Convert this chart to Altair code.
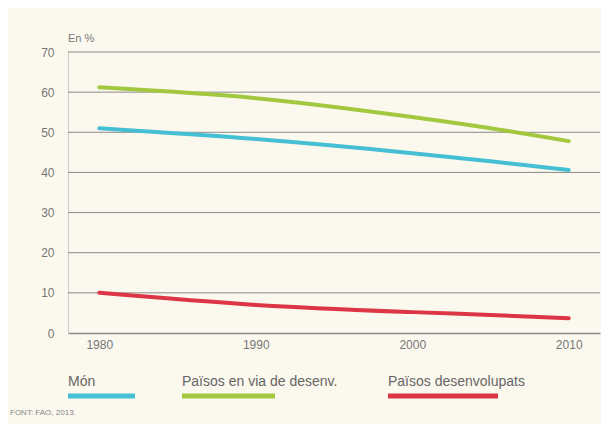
import altair as alt
import pandas as pd

years = [1980, 1990, 2000, 2005, 2010]
mon = [51, 48.3, 44.8, 42.8, 40.6]
desenv_via = [61.2, 58.5, 53.8, 51.0, 47.8]
desenvolupats = [10, 7.0, 5.2, 4.5, 3.7]
series_names = ["Món", "Països en via de desenv.", "Països desenvolupats"]
series_colors = ["#45bfd4", "#a2c83f", "#dc3545"]
y_ticks = [0, 10, 20, 30, 40, 50, 60, 70]
x_ticks = [1980, 1990, 2000, 2010]

rows = []
for name, vals in zip(series_names, [mon, desenv_via, desenvolupats]):
    for yr, v in zip(years, vals):
        rows.append({"year": yr, "value": v, "serie": name})
df = pd.DataFrame(rows)

W, H = 532, 281

x_scale = alt.Scale(domain=[1978, 2012], nice=False, zero=False)
y_scale = alt.Scale(domain=[0, 70], nice=False)
y_axis = alt.Axis(values=y_ticks, title=None, grid=False,
                  domainColor="#cccccc", ticks=False,
                  labelColor="#777777", labelFontSize=12, labelPadding=14,
                  labelFont="Liberation Sans")

grid = alt.Chart(pd.DataFrame({"v": y_ticks[1:]})).mark_rule(
    color="#8a8a8a", strokeWidth=1
).encode(y=alt.Y("v:Q", scale=y_scale, axis=y_axis))

lines = alt.Chart(df).mark_line(strokeWidth=4, strokeCap="round", interpolate="monotone").encode(
    x=alt.X("year:Q", scale=x_scale,
            axis=alt.Axis(values=x_ticks, format="d", title=None, grid=False,
                          domainColor="#888888", domainWidth=1.5, ticks=False,
                          labelColor="#777777", labelFontSize=12, labelPadding=6,
                          labelFont="Liberation Sans")),
    y=alt.Y("value:Q", scale=y_scale, axis=y_axis),
    color=alt.Color("serie:N", scale=alt.Scale(domain=series_names, range=series_colors), legend=None),
    detail="serie:N",
)

unit = alt.Chart(pd.DataFrame({"t": ["En %"]})).mark_text(
    align="left", baseline="bottom", fontSize=11, color="#777777", font="Liberation Sans"
).encode(text="t:N", x=alt.value(0), y=alt.value(-8))

leg_x = [0, 114, 320]
leg_w = [67, 93, 110]
leg_df = pd.DataFrame({"name": series_names, "x": leg_x, "x2": [a + b for a, b in zip(leg_x, leg_w)]})

leg_text = alt.Chart(leg_df).mark_text(
    align="left", baseline="alphabetic", fontSize=14, color="#666666", font="Liberation Sans"
).encode(
    text="name:N",
    x=alt.X("x:Q", scale=alt.Scale(domain=[0, W], range=[0, W]), axis=None),
    y=alt.value(H + 53),
)
leg_bar = alt.Chart(leg_df).mark_rule(strokeWidth=5).encode(
    x=alt.X("x:Q", scale=alt.Scale(domain=[0, W], range=[0, W]), axis=None),
    x2="x2:Q",
    y=alt.value(H + 63),
    color=alt.Color("name:N", scale=alt.Scale(domain=series_names, range=series_colors), legend=None),
)

source = alt.Chart(pd.DataFrame({"t": ["FONT: FAO, 2013."]})).mark_text(
    align="left", baseline="alphabetic", fontSize=8, color="#888888", font="Liberation Sans"
).encode(text="t:N", x=alt.value(-58), y=alt.value(H + 82))

chart = alt.layer(grid, lines, unit, leg_text, leg_bar, source).resolve_scale(
    x="independent", color="independent"
).properties(
    width=W, height=H,
    autosize=alt.AutoSizeParams(type="none"),
    padding={"left": 60, "top": 44, "right": 1, "bottom": 91},
    background="#fbf8ee",
).configure_view(stroke=None)

chart.save("out.html", embed_options={"renderer": "svg", "actions": False})
